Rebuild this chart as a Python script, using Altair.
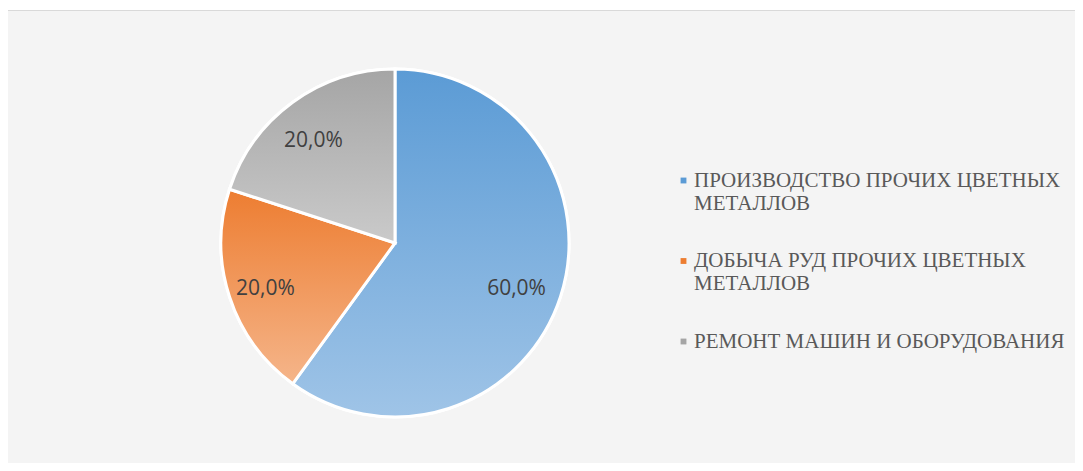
import altair as alt
import pandas as pd

categories = [
    "ПРОИЗВОДСТВО ПРОЧИХ ЦВЕТНЫХ МЕТАЛЛОВ",
    "ДОБЫЧА РУД ПРОЧИХ ЦВЕТНЫХ МЕТАЛЛОВ",
    "РЕМОНТ МАШИН И ОБОРУДОВАНИЯ",
]
shares = [60.0, 20.0, 20.0]
share_labels = ["60,0%", "20,0%", "20,0%"]
slice_order = [0, 1, 2]
top_colors = ["#5B9BD5", "#ED7D31", "#A5A5A5"]
bottom_colors = ["#9FC4E7", "#F5B58A", "#CACACA"]

df = pd.DataFrame({
    "category": categories,
    "share": shares,
    "label": share_labels,
    "ord": slice_order,
})

CX, CY, R = 387, 233, 174


def grad(c1, c2):
    return {
        "gradient": "linear",
        "x1": 0, "y1": 0, "x2": 0, "y2": 1,
        "stops": [{"offset": 0, "color": c1}, {"offset": 1, "color": c2}],
    }


fill_def = {
    "condition": [
        {"test": f"datum.category === '{categories[i]}'", "value": grad(top_colors[i], bottom_colors[i])}
        for i in range(2)
    ],
    "value": grad(top_colors[2], bottom_colors[2]),
}

theta = alt.Theta("share:Q", stack=True)
order = alt.Order("ord:Q")

base = alt.Chart(df)

legend_layer = base.mark_arc(radius=R, stroke="white", strokeWidth=3).encode(
    theta=theta,
    order=order,
    x=alt.value(CX),
    y=alt.value(CY),
    color=alt.Color(
        "category:N",
        scale=alt.Scale(domain=categories, range=top_colors),
        legend=alt.Legend(
            title=None,
            orient="none",
            legendX=665,
            legendY=160,
            padding=0,
            symbolType="square",
            symbolSize=34,
            symbolStrokeWidth=0,
            labelFont="Liberation Serif",
            labelFontSize=21,
            labelColor="#595959",
            labelLimit=600,
            labelOffset=0,
            rowPadding=35.5,
            labelExpr="split(replace(datum.label, 'ЦВЕТНЫХ ', 'ЦВЕТНЫХ|'), '|')",
        ),
    ),
)

gradient_layer = base.mark_arc(radius=R, stroke="white", strokeWidth=3).encode(
    theta=theta,
    order=order,
    detail="category:N",
    x=alt.value(CX),
    y=alt.value(CY),
    fill=fill_def,
)

text_layer = base.mark_text(
    radius=132, dx=-4, dy=5, font="Open Sans", fontSize=21, color="#404040"
).encode(
    theta=theta,
    order=order,
    detail="category:N",
    x=alt.value(CX),
    y=alt.value(CY),
    text="label:N",
)

top_border = alt.Chart(df).mark_rule(color="#D9D9D9", strokeWidth=1).encode(
    x=alt.value(0), x2=alt.value(1067), y=alt.value(0.5)
)
left_border = alt.Chart(df).mark_rule(color="#D9D9D9", strokeWidth=1).encode(
    x=alt.value(-0.5), y=alt.value(0), y2=alt.value(453)
)

chart = alt.layer(legend_layer, gradient_layer, text_layer, top_border, left_border).properties(
    width=1067,
    height=453,
    padding={"top": 2, "left": 0, "right": 0, "bottom": 0},
    autosize=alt.AutoSizeParams(type="none"),
    background="white",
).configure_view(fill="#F4F4F4", stroke=None)

chart.save("out.html", embed_options={"renderer": "svg", "actions": False})
